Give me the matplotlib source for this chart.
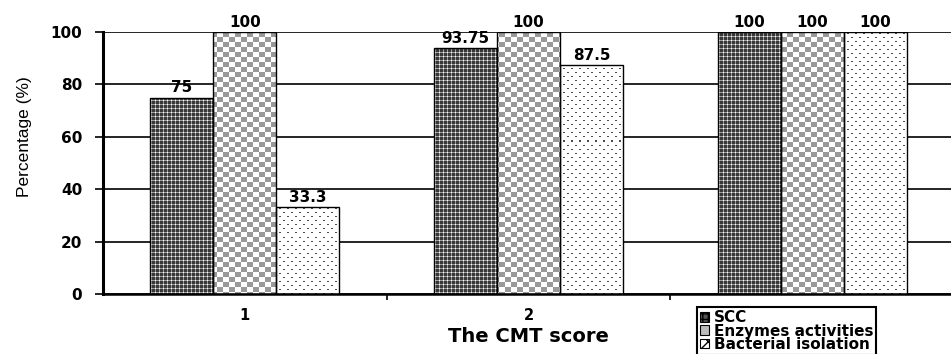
import numpy as np
import matplotlib
matplotlib.use("Agg")
import matplotlib.pyplot as plt
from matplotlib.patches import Patch

# Data
categories = ["1", "2", "3"]
series_names = ["SCC", "Enzymes activities", "Bacterial isolation"]
scc = [75, 93.75, 100]
enzymes = [100, 100, 100]
bacterial = [33.3, 87.5, 100]
y_ticks = [0, 20, 40, 60, 80, 100]

W_PX, H_PX = 951, 354
DPI = 100
fig = plt.figure(figsize=(W_PX / DPI, H_PX / DPI), dpi=DPI)
fig.patch.set_facecolor("white")

ax_l, ax_b, ax_w, ax_h = 103, 60, 851, 262
ax = fig.add_axes([ax_l / W_PX, ax_b / H_PX, ax_w / W_PX, ax_h / H_PX])

XMIN, XMAX, YMIN, YMAX = -0.5, len(categories) - 0.5, 0, 100
ax.set_xlim(XMIN, XMAX)
ax.set_ylim(YMIN, YMAX)

BOLD = dict(family="DejaVu Sans", fontweight="bold")


# pixel textures used to fill the bars
def tex_grid(h, w):
    r, c = np.mgrid[0:h, 0:w]
    img = np.full((h, w), 0.22)
    img[(c % 4 == 0)] = 0.62
    img[(r % 4 == 0)] = 0.62
    img[(c % 4 == 0) & (r % 4 == 0)] = 1.0
    return img


def tex_checker(h, w):
    r, c = np.mgrid[0:h, 0:w]
    return np.where(((r // 5) + (c // 6)) % 2 == 0, 0.6, 1.0)


def tex_dots(h, w):
    r, c = np.mgrid[0:h, 0:w]
    img = np.ones((h, w))
    row = r // 4
    shift = (row % 2) * 4
    on = (r % 4 == 1) & (((c + shift) % 8) < 2)
    img[on] = 0.3
    return img


textures = [tex_grid(ax_h, ax_w), tex_checker(ax_h, ax_w), tex_dots(ax_h, ax_w)]
series = [scc, enzymes, bacterial]

x = np.arange(len(categories))
bw = 0.222
offsets = [-bw, 0, bw]

for vals, off, tex in zip(series, offsets, textures):
    bars = ax.bar(x + off, vals, width=bw, facecolor="none",
                  edgecolor="black", linewidth=1.0, zorder=3)
    for rect, v in zip(bars, vals):
        im = ax.imshow(tex, cmap="gray", vmin=0, vmax=1,
                       extent=(XMIN, XMAX, YMIN, YMAX), origin="upper",
                       interpolation="nearest", aspect="auto", zorder=2)
        im.set_clip_path(rect)
        ax.annotate(f"{v:g}", (rect.get_x() + rect.get_width() / 2, v),
                    xytext=(0, 1.5), textcoords="offset points",
                    ha="center", va="bottom", fontsize=11,
                    annotation_clip=False, **BOLD)

# keep the axes limits fixed after imshow
ax.set_xlim(XMIN, XMAX)
ax.set_ylim(YMIN, YMAX)

# horizontal gridlines
ax.set_yticks(y_ticks)
ax.yaxis.grid(True, color="black", linewidth=1.2, zorder=1)
ax.set_axisbelow(True)
ax.tick_params(axis="y", direction="out", length=6, width=1.2, pad=9,
               labelsize=11)
for lab in ax.get_yticklabels():
    lab.set_fontweight("bold")
    lab.set_family("DejaVu Sans")

ax.set_xticks(x)
ax.set_xticklabels(categories)
ax.tick_params(axis="x", length=0, pad=10, labelsize=10.5)
for lab in ax.get_xticklabels():
    lab.set_fontweight("bold")
    lab.set_family("DejaVu Sans")
ax.set_xticks(np.arange(len(categories) - 1) + 0.5, minor=True)
ax.tick_params(axis="x", which="minor", direction="out", length=4, width=1.2)

for s in ["top", "right"]:
    ax.spines[s].set_visible(False)
ax.spines["left"].set_linewidth(2.2)
ax.spines["bottom"].set_linewidth(1.8)

ax.set_xlabel("The CMT score", fontsize=14, labelpad=3, **BOLD)
ax.set_ylabel("Percentage (%)", fontsize=12.5, family="Liberation Sans")
ax.yaxis.set_label_coords(-0.083, 0.60)

# legend
handles = [
    Patch(facecolor="#555555", edgecolor="black", hatch="+++", linewidth=0.8),
    Patch(facecolor="#bbbbbb", edgecolor="black", hatch="", linewidth=0.8),
    Patch(facecolor="white", edgecolor="black", hatch="xx", linewidth=0.8),
]
leg = fig.legend(handles, series_names, loc="upper left",
                 bbox_to_anchor=(697 / W_PX, 1 - 307 / H_PX),
                 frameon=True, fancybox=False, framealpha=1,
                 edgecolor="black", borderpad=0.2, borderaxespad=0,
                 handlelength=0.6, handleheight=0.6, handletextpad=0.3,
                 labelspacing=-0.1,
                 prop=dict(family="DejaVu Sans", weight="bold", size=11))
leg.get_frame().set_linewidth(1.5)

fig.savefig("out.png", dpi=DPI, facecolor="white")
